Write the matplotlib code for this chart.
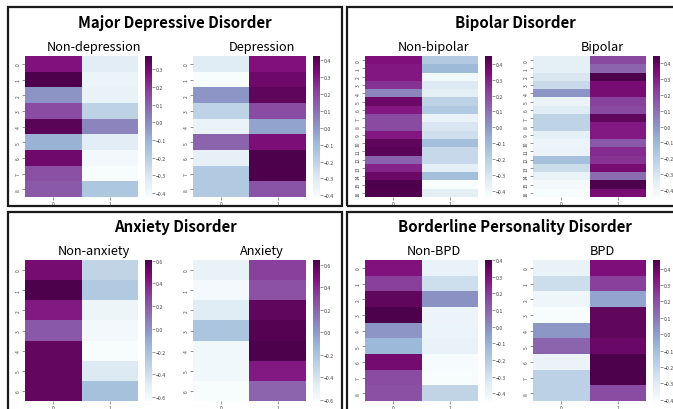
import numpy as np
import matplotlib
matplotlib.use("Agg")
import matplotlib.pyplot as plt
import seaborn as sns
from matplotlib.patches import Rectangle

W, H = 673, 410

# ---- values: (column 0, column 1) per row ----
MDD_NON_C0 = [0.27, 0.376, -0.02, 0.15, 0.35, -0.10, 0.31, 0.14, 0.12]
MDD_NON_C1 = [-0.33, -0.37, -0.36, -0.22, 0.02, -0.33, -0.40, -0.423, -0.17]
MDD_DEP_C0 = [-0.31, -0.41, 0.01, -0.20, -0.35, 0.13, -0.33, -0.16, -0.16]
MDD_DEP_C1 = [0.32, 0.36, 0.39, 0.19, -0.03, 0.33, 0.426, 0.42, 0.17]

BIP_NON_C0 = [0.34, 0.32, 0.32, 0.26, 0.05, 0.38, 0.32, 0.20, 0.20,
              0.32, 0.41, 0.42, 0.14, 0.29, 0.39, 0.449, 0.44]
BIP_NON_C1 = [-0.17, -0.10, -0.41, -0.32, -0.34, -0.21, -0.17, -0.37, -0.30,
              -0.27, -0.12, -0.24, -0.24, -0.34, -0.12, -0.438, -0.34]
BIP_BIP_C0 = [-0.35, -0.35, -0.31, -0.25, 0.00, -0.38, -0.33, -0.22, -0.22,
              -0.35, -0.39, -0.38, -0.13, -0.26, -0.37, -0.42, -0.442]
BIP_BIP_C1 = [0.20, 0.13, 0.442, 0.35, 0.35, 0.22, 0.20, 0.40, 0.31,
              0.31, 0.16, 0.27, 0.25, 0.35, 0.11, 0.44, 0.35]

ANX_NON_C0 = [0.48, 0.606, 0.42, 0.21, 0.54, 0.54, 0.54]
ANX_NON_C1 = [-0.325, -0.26, -0.57, -0.60, -0.635, -0.47, -0.20]
ANX_ANX_C0 = [-0.51, -0.585, -0.46, -0.20, -0.57, -0.57, -0.61]
ANX_ANX_C1 = [0.33, 0.265, 0.58, 0.615, 0.64, 0.45, 0.20]

BPD_NON_C0 = [0.29, 0.19, 0.36, 0.40, -0.02, -0.12, 0.32, 0.16, 0.15]
BPD_NON_C1 = [-0.38, -0.28, -0.01, -0.395, -0.39, -0.38, -0.44, -0.446, -0.235]
BPD_BPD_C0 = [-0.34, -0.236, -0.365, -0.408, 0.02, 0.15, -0.35, -0.18, -0.18]
BPD_BPD_C1 = [0.35, 0.24, -0.02, 0.41, 0.41, 0.39, 0.453, 0.45, 0.21]

PANELS = [
    ("Major Depressive Disorder", ("Non-depression", "Depression"),
     (MDD_NON_C0, MDD_NON_C1), (MDD_DEP_C0, MDD_DEP_C1)),
    ("Bipolar Disorder", ("Non-bipolar", "Bipolar"),
     (BIP_NON_C0, BIP_NON_C1), (BIP_BIP_C0, BIP_BIP_C1)),
    ("Anxiety Disorder", ("Non-anxiety", "Anxiety"),
     (ANX_NON_C0, ANX_NON_C1), (ANX_ANX_C0, ANX_ANX_C1)),
    ("Borderline Personality Disorder", ("Non-BPD", "BPD"),
     (BPD_NON_C0, BPD_NON_C1), (BPD_BPD_C0, BPD_BPD_C1)),
]

# pixel layout: panel origin offsets (x, y) and the framing boxes
ORIGINS = [(0, 0), (340, 0), (0, 204), (340, 204)]
BOXES = [(8, 8, 333.5, 199), (347, 8, 360, 199),
         (8, 212.5, 333.5, 220), (347, 212.5, 360, 220)]
FONT = ["Noto Sans CJK KR", "DejaVu Sans"]


def frac(x, y, w, h):
    return [x / W, 1 - (y + h) / H, w / W, h / H]


def draw_heat(fig, cols, x, y):
    data = np.column_stack(cols)
    ax = fig.add_axes(frac(x, y, 113, 141))
    cax = fig.add_axes(frac(x + 120, y, 7, 141))
    sns.heatmap(data, ax=ax, cbar_ax=cax, cmap="BuPu", yticklabels=True)
    ax.tick_params(labelsize=3.6, length=2, width=0.4, pad=1, colors="#444444")
    for t in ax.get_yticklabels():
        t.set_rotation(90)
    cax.tick_params(labelsize=3.8, length=2, width=0.4, pad=1, colors="#444444")
    cax.yaxis.set_ticks_position("right")
    for s in cax.spines.values():
        s.set_visible(False)


fig = plt.figure(figsize=(W / 100, H / 100), dpi=100)
plt.rcParams["font.family"] = FONT

for (bx, by, bw, bh) in BOXES:
    fig.patches.append(Rectangle((bx / W, 1 - (by + bh) / H), bw / W, bh / H,
                                 transform=fig.transFigure, fill=False,
                                 edgecolor="#1a1a1a", linewidth=1.6))

for (title, subs, left, right), (ox, oy) in zip(PANELS, ORIGINS):
    fig.text((ox + 175) / W, 1 - (oy + 23) / H, title, ha="center", va="center",
             fontsize=10.8, fontweight="bold", family=FONT)
    fig.text((ox + 94) / W, 1 - (oy + 48) / H, subs[0], ha="center", va="center",
             fontsize=9.2, family=FONT)
    fig.text((ox + 262) / W, 1 - (oy + 48) / H, subs[1], ha="center", va="center",
             fontsize=9.2, family=FONT)
    draw_heat(fig, left, ox + 25, oy + 57)
    draw_heat(fig, right, ox + 193, oy + 57)

fig.savefig("out.png", dpi=100)
